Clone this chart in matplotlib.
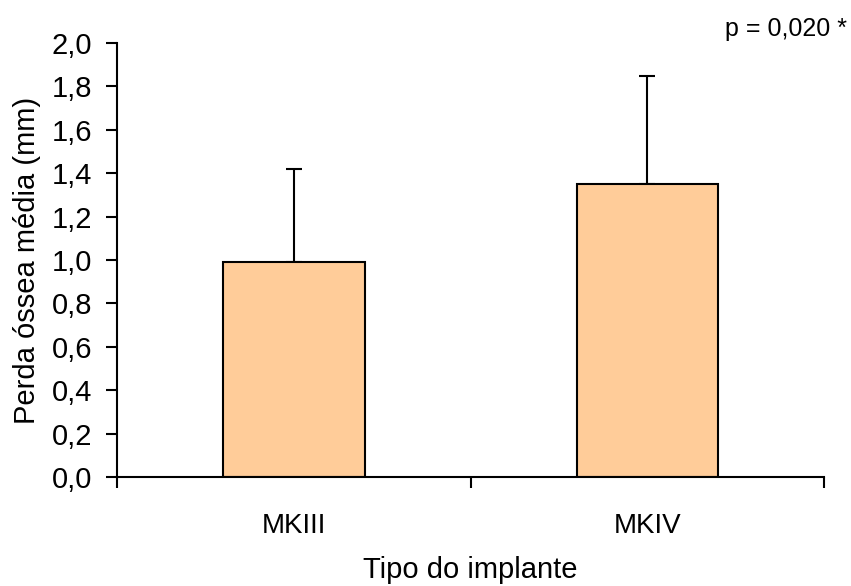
import matplotlib
matplotlib.use('Agg')
from matplotlib import pyplot as plt
import numpy as np

plt.rcParams['font.family'] = ['Liberation Sans', 'DejaVu Sans']

# data
categories = ['MKIII', 'MKIV']
means = [0.99, 1.35]
errors = [0.43, 0.50]
yticks = [0.0, 0.2, 0.4, 0.6, 0.8, 1.0, 1.2, 1.4, 1.6, 1.8, 2.0]

fig = plt.figure(figsize=(8.51, 5.86), dpi=100)
ax = fig.add_axes([0.1378, 0.186, 0.9683 - 0.1378, 0.9266 - 0.186])

index = np.arange(len(categories))
ax.bar(index, means, 0.4, color='#FFCC99', edgecolor='black', linewidth=1.5, zorder=2)
ax.errorbar(index, means, yerr=[np.zeros(len(errors)), errors], fmt='none',
            ecolor='black', elinewidth=1.5, capsize=5.6, capthick=1.5, zorder=1)

ax.set_xlim(-0.5, len(categories) - 0.5)
ax.set_ylim(0, 2.0)
ax.set_yticks(yticks)
ax.set_yticklabels([('%.1f' % v).replace('.', ',') for v in yticks])
ax.set_xticks(index)
ax.set_xticklabels(categories)
# tick marks sit between the categories
ax.set_xticks(np.arange(len(categories) + 1) - 0.5, minor=True)

ax.tick_params(axis='x', which='major', length=0, pad=26, labelsize=20)
ax.tick_params(axis='x', which='minor', length=8, width=1.5, direction='out')
ax.tick_params(axis='y', length=8, width=1.5, direction='out', pad=10, labelsize=21)

for s in ['top', 'right']:
    ax.spines[s].set_visible(False)
for s in ['left', 'bottom']:
    ax.spines[s].set_linewidth(1.5)

ax.set_xlabel('Tipo do implante', fontsize=21)
ax.xaxis.set_label_coords(0.5, -0.233)
ax.xaxis.label.set_verticalalignment('baseline')
ax.set_ylabel('Perda óssea média (mm)', fontsize=21)
ax.yaxis.set_label_coords(-0.128, 0.5)
ax.yaxis.label.set_verticalalignment('center')

fig.text(847 / 851, 1 - 36 / 586, 'p = 0,020 *', fontsize=18, ha='right', va='baseline')

fig.savefig('out.png', dpi=100)
